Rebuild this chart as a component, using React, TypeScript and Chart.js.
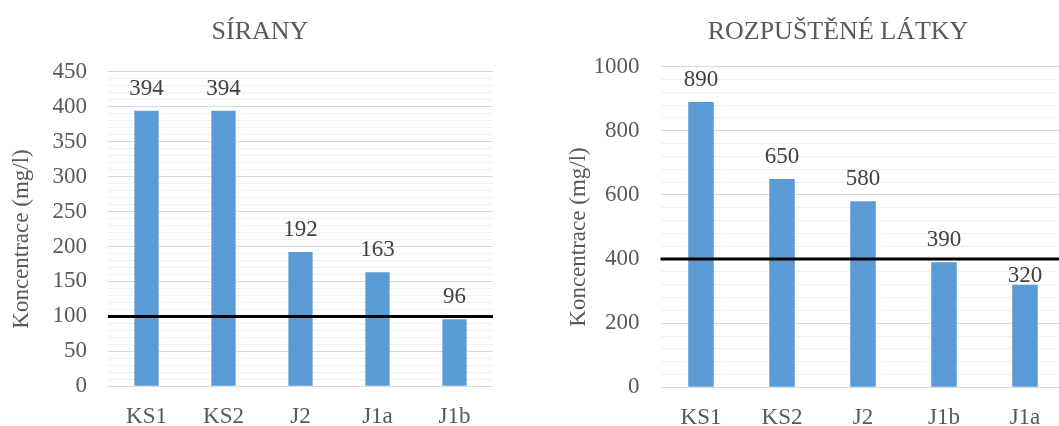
import { useEffect, useRef } from 'react';
import { Chart, registerables } from 'chart.js';

Chart.register(...registerables);

const FONT = "'Liberation Serif', 'Times New Roman', serif";

// Síranové koncentrace
const sulfateTitle = 'SÍRANY';
const sulfateCategories = ['KS1', 'KS2', 'J2', 'J1a', 'J1b'];
const sulfateValues = [394, 394, 192, 163, 96];
const sulfateLimit = 100;

// Rozpuštěné látky
const dissolvedTitle = 'ROZPUŠTĚNÉ LÁTKY';
const dissolvedCategories = ['KS1', 'KS2', 'J2', 'J1b', 'J1a'];
const dissolvedValues = [890, 650, 580, 390, 320];
const dissolvedLimit = 400;

const yAxisTitle = 'Koncentrace (mg/l)';

type Frame = {
  width: number;
  height: number;
  axisWidth: number;
  top: number;
  right: number;
  xAxisHeight: number;
};

type Spec = {
  title: string;
  categories: string[];
  values: number[];
  limit: number;
  max: number;
  minorStep: number;
  majorStep: number;
  frame: Frame;
};

// Limit line, value labels, chart title and rotated axis title
const overlayPlugin = {
  id: 'overlay',
  afterDatasetsDraw(chart: any, _args: any, opts: any) {
    const { ctx, chartArea: a, scales } = chart;
    const ly = scales.y.getPixelForValue(opts.limit);
    ctx.save();
    ctx.strokeStyle = '#000000';
    ctx.lineWidth = 3;
    ctx.beginPath();
    ctx.moveTo(a.left, ly);
    ctx.lineTo(a.right, ly);
    ctx.stroke();

    ctx.font = `23px ${FONT}`;
    ctx.fillStyle = '#404040';
    ctx.textAlign = 'center';
    ctx.textBaseline = 'alphabetic';
    const meta = chart.getDatasetMeta(0);
    const data = chart.data.datasets[0].data as number[];
    meta.data.forEach((bar: any, i: number) => {
      let base = bar.y - 16;
      const capTop = base - 15;
      // keep the label clear of the limit line
      if (ly + 2 >= capTop && ly - 2 <= base) base = bar.y - 3;
      ctx.fillText(String(data[i]), bar.x, base);
    });

    ctx.fillStyle = '#595959';
    ctx.font = `26px ${FONT}`;
    ctx.fillText(opts.title, chart.width / 2, 39);

    ctx.font = `23px ${FONT}`;
    ctx.translate(27.5, (a.top + a.bottom) / 2 + 10);
    ctx.rotate(-Math.PI / 2);
    ctx.fillText(yAxisTitle, 0, 0);
    ctx.restore();
  },
};

function BarPanel({ spec, left }: { spec: Spec; left: number }) {
  const ref = useRef<HTMLCanvasElement>(null);

  useEffect(() => {
    if (!ref.current) return;
    const f = spec.frame;
    const chart = new Chart(ref.current, {
      type: 'bar',
      data: {
        labels: spec.categories,
        datasets: [
          {
            data: spec.values,
            backgroundColor: '#5B9BD5',
            borderWidth: 0,
            barPercentage: 0.315,
            categoryPercentage: 1,
          },
        ],
      },
      options: {
        responsive: false,
        animation: false,
        layout: { padding: { left: 0, top: f.top, right: f.right, bottom: 0 } },
        plugins: {
          legend: { display: false },
          title: { display: false },
          tooltip: { enabled: false },
          overlay: { limit: spec.limit, title: spec.title },
        } as any,
        scales: {
          x: {
            grid: { display: false },
            border: { display: false },
            ticks: {
              color: '#595959',
              font: { family: FONT, size: 23 },
              padding: 9,
              maxRotation: 0,
            },
            afterFit: (s: any) => {
              s.height = f.xAxisHeight;
            },
          },
          y: {
            min: 0,
            max: spec.max,
            border: { display: false },
            grid: {
              drawTicks: false,
              color: (c: any) =>
                c.tick && c.tick.value % spec.majorStep === 0 ? '#D9D9D9' : '#F0F0F0',
              lineWidth: 1,
            },
            ticks: {
              stepSize: spec.minorStep,
              autoSkip: false,
              color: '#595959',
              font: { family: FONT, size: 23 },
              padding: 21,
              callback: (v: any) => (Number(v) % spec.majorStep === 0 ? String(v) : ''),
            },
            afterFit: (s: any) => {
              s.width = f.axisWidth;
            },
          },
        },
      },
      plugins: [overlayPlugin],
    });
    return () => chart.destroy();
  }, [spec]);

  return (
    <canvas
      ref={ref}
      width={spec.frame.width}
      height={spec.frame.height}
      style={{ position: 'absolute', left, top: 0, display: 'block' }}
    />
  );
}

const sulfateSpec: Spec = {
  title: sulfateTitle,
  categories: sulfateCategories,
  values: sulfateValues,
  limit: sulfateLimit,
  max: 450,
  minorStep: 10,
  majorStep: 50,
  frame: { width: 520, height: 426, axisWidth: 108, top: 71.7, right: 27, xAxisHeight: 39.7 },
};

const dissolvedSpec: Spec = {
  title: dissolvedTitle,
  categories: dissolvedCategories,
  values: dissolvedValues,
  limit: dissolvedLimit,
  max: 1000,
  minorStep: 40,
  majorStep: 200,
  frame: { width: 562, height: 426, axisWidth: 103.5, top: 66.7, right: 53.5, xAxisHeight: 38.7 },
};

export default function App() {
  return (
    <div
      style={{
        position: 'fixed',
        left: 0,
        top: 0,
        width: 1059,
        height: 426,
        overflow: 'hidden',
        background: '#ffffff',
      }}
    >
      <BarPanel spec={sulfateSpec} left={0} />
      <BarPanel spec={dissolvedSpec} left={557} />
    </div>
  );
}
